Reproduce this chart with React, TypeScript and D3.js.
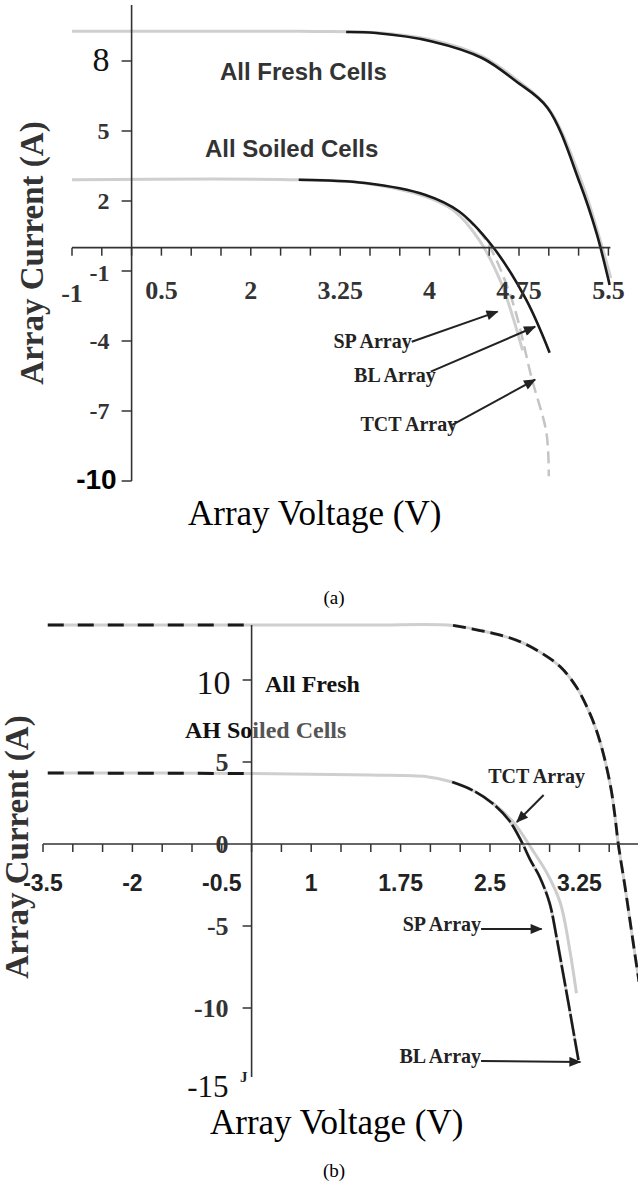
import React from "react";
import * as d3 from "d3";

type Pt = [number, number];

// ---------- chart (a) ----------
const aXTicks = [-1, 0.5, 2, 3.25, 4, 4.75, 5.5];
const aXLabels = ["-1", "0.5", "2", "3.25", "4", "4.75", "5.5"];
const aYTicks = [8, 5, 2, -1, -4, -7, -10];

// [voltage, current]
const aFreshGray: Pt[] = [
  [-1, 9.27], [2.67, 9.27], [3.55, 9.22], [4.02, 8.9], [4.44, 8.2], [4.73, 7.2],
  [5.0, 5.95], [5.28, 2.75], [5.42, 0.5], [5.52, -1.3],
];
const aFreshBL: Pt[] = [
  [3.3, 9.24], [3.55, 9.2], [4.02, 8.84], [4.44, 8.13], [4.725, 7.13], [4.99, 5.99],
  [5.26, 2.77], [5.4, 0.63], [5.5, -1.37], [5.51, -1.6],
];
const aSoiledSP: Pt[] = [
  [-1, 2.91], [2.67, 2.91], [3.46, 2.76], [3.96, 2.2], [4.2, 1.6], [4.42, 0.3],
  [4.6, -1.5], [4.7, -3.0], [4.78, -4.4],
];
const aSoiledBL: Pt[] = [
  [2.67, 2.91], [3.46, 2.77], [3.96, 2.27], [4.245, 1.56], [4.527, 0.06], [4.81, -2.23],
  [5.007, -4.5],
];
const aSoiledTCT: Pt[] = [
  [4.3, 1.3], [4.47, 0.34], [4.69, -2.23], [4.86, -5.66], [4.98, -7.93], [5.0, -9.8],
];
// label, tail [v, i], tip [v, i]
const aArrows: { label: string; tail: Pt; tip: Pt }[] = [
  { label: "SP Array", tail: [3.85, -4.03], tip: [4.57, -2.74] },
  { label: "BL Array", tail: [4.01, -5.31], tip: [4.885, -3.39] },
  { label: "TCT Array", tail: [4.19, -7.59], tip: [4.885, -5.66] },
];

// ---------- chart (b) ----------
const bXTicks = [-3.5, -2, -0.5, 1, 1.75, 2.5, 3.25];
const bXLabels = ["-3.5", "-2", "-0.5", "1", "1.75", "2.5", "3.25"];
const bYTicks = [10, 5, 0, -5, -10, -15];

const bFresh: Pt[] = [
  [-3.42, 13.35], [0, 13.35], [1.5, 13.35], [2.19, 13.33], [2.475, 12.93], [2.717, 12.44],
  [2.917, 11.71], [3.092, 10.79], [3.225, 9.57], [3.325, 8.17], [3.392, 6.95], [3.458, 5.3],
  [3.517, 3.29], [3.55, 1.6], [3.575, 0.06], [3.633, -2.62], [3.692, -5.55], [3.75, -8.4],
];
const bSoiled: Pt[] = [
  [-3.42, 4.33], [0, 4.3], [1.5, 4.2], [1.97, 4.1], [2.183, 3.78], [2.35, 3.29],
  [2.517, 2.5], [2.658, 1.46], [2.758, 0.24], [2.84, -1.0], [2.917, -2.01], [3.0, -3.6],
  [3.058, -5.67], [3.108, -7.68], [3.158, -9.7], [3.208, -11.77], [3.242, -13.17],
];
const bSoiledTCT: Pt[] = [
  [2.517, 2.55], [2.7, 1.3], [2.85, -0.3], [2.98, -1.8], [3.09, -3.6], [3.17, -6.5],
  [3.225, -9.1],
];
const bArrows: { label: string; tail: Pt; tip: Pt }[] = [
  { label: "TCT Array", tail: [2.95, 2.99], tip: [2.725, 1.34] },
  { label: "SP Array", tail: [2.425, -5.18], tip: [2.933, -5.18] },
  { label: "BL Array", tail: [2.425, -13.23], tip: [3.258, -13.29] },
];

const SERIF = "'Liberation Serif', 'Times New Roman', serif";
const SANS = "'Liberation Sans', Arial, sans-serif";

// ticks in between the labelled values (three steps per label)
const thirds = (vals: number[]) =>
  vals.flatMap((v, k) =>
    k < vals.length - 1 ? [v, v + (vals[k + 1] - v) / 3, v + (2 * (vals[k + 1] - v)) / 3] : [v]
  );

export default function App() {
  const W = 638;
  const H = 1183;

  // (a) scales
  const aX = d3.scaleLinear().domain(aXTicks).range(aXTicks.map((_, k) => 72 + k * 89.4));
  const aY = d3.scaleLinear().domain([-10, 8]).range([481, 61]);
  const aLine = d3
    .line<Pt>()
    .x((d) => aX(d[0]))
    .y((d) => aY(d[1]))
    .curve(d3.curveCatmullRom.alpha(0.5));
  const aAxisY = aY(0);
  const aAxisX = aX(0);

  // (b) scales
  const bX = d3.scaleLinear().domain(bXTicks).range(bXTicks.map((_, k) => 43 + k * 89.4));
  const bY = d3.scaleLinear().domain([-15, 10]).range([1090, 680]);
  const bLine = d3
    .line<Pt>()
    .x((d) => bX(d[0]))
    .y((d) => bY(d[1]))
    .curve(d3.curveCatmullRom.alpha(0.5));
  const bAxisY = bY(0);
  const bAxisX = bX(0);

  const aMinor = thirds(aXTicks);
  const bMinor = [...thirds(bXTicks), 3.5];

  const aYFont = (v: number) =>
    v === 8
      ? { fontFamily: SERIF, fontSize: 34, fontWeight: 400, fill: "#111" }
      : v === -10
      ? { fontFamily: SANS, fontSize: 28, fontWeight: 700, fill: "#000" }
      : { fontFamily: SERIF, fontSize: 24, fontWeight: 700, fill: "#333" };
  const bYFont = (v: number) =>
    v === 10
      ? { fontFamily: SERIF, fontSize: 34, fontWeight: 400, fill: "#111" }
      : v === -15
      ? { fontFamily: SERIF, fontSize: 31, fontWeight: 400, fill: "#111" }
      : { fontFamily: SERIF, fontSize: 26, fontWeight: 700, fill: "#333" };

  return (
    <svg
      width={W}
      height={H}
      style={{ position: "absolute", left: 0, top: 0, background: "#fff" }}
    >
      <defs>
        <marker
          id="head"
          viewBox="0 0 12 10"
          refX="11"
          refY="5"
          markerWidth="13"
          markerHeight="10"
          markerUnits="userSpaceOnUse"
          orient="auto"
        >
          <path d="M0,0 L12,5 L0,10 Z" fill="#222" />
        </marker>
      </defs>
      <rect width={W} height={H} fill="#fff" />

      {/* ================= (a) ================= */}
      <g>
        <path d={aLine(aFreshGray) || ""} fill="none" stroke="#cfcfcf" strokeWidth={3} />
        <path d={aLine(aSoiledSP) || ""} fill="none" stroke="#cfcfcf" strokeWidth={3} />
        <path
          d={aLine(aSoiledTCT) || ""}
          fill="none"
          stroke="#c4c4c4"
          strokeWidth={2.5}
          strokeDasharray="12 6"
        />
        <path d={aLine(aFreshBL) || ""} fill="none" stroke="#1a1a1a" strokeWidth={2.6} />
        <path d={aLine(aSoiledBL) || ""} fill="none" stroke="#1a1a1a" strokeWidth={2.6} />

        <line x1={aX(-1)} x2={aX(5.5) + 2} y1={aAxisY} y2={aAxisY} stroke="#333" strokeWidth={1.6} />
        <line x1={aAxisX} x2={aAxisX} y1={5} y2={aY(-10)} stroke="#333" strokeWidth={1.6} />
        {aMinor.map((v, k) => (
          <line key={k} x1={aX(v)} x2={aX(v)} y1={aAxisY} y2={aAxisY + 8} stroke="#333" strokeWidth={1.5} />
        ))}
        {aXTicks.map((v, k) => (
          <text
            key={k}
            x={aX(v)}
            y={k === 0 ? 302 : 299}
            textAnchor="middle"
            fontFamily={SERIF}
            fontSize={26}
            fontWeight={700}
            fill="#333"
          >
            {aXLabels[k]}
          </text>
        ))}
        {aYTicks.map((v) => (
          <g key={v}>
            <line x1={aAxisX - 10} x2={aAxisX} y1={aY(v)} y2={aY(v)} stroke="#333" strokeWidth={1.5} />
            <text
              x={v === -10 ? aAxisX - 15 : aAxisX - 22}
              y={aY(v)}
              dy={v === 8 ? 10 : v === -1 ? 10 : 8}
              textAnchor="end"
              {...aYFont(v)}
            >
              {v}
            </text>
          </g>
        ))}

        <text x={220} y={80} fontFamily={SANS} fontSize={24} fontWeight={700} fill="#333">
          All Fresh Cells
        </text>
        <text x={205} y={157} fontFamily={SANS} fontSize={24} fontWeight={700} fill="#333">
          All Soiled Cells
        </text>

        {aArrows.map((a) => (
          <g key={a.label}>
            <text
              x={aX(a.tail[0]) + (a.label === "SP Array" ? 0 : 5)}
              y={aY(a.tail[1]) + (a.label === "BL Array" ? 10 : 6)}
              textAnchor="end"
              fontFamily={SERIF}
              fontSize={20}
              fontWeight={700}
              fill="#222"
            >
              {a.label}
            </text>
            <line
              x1={aX(a.tail[0])}
              y1={aY(a.tail[1])}
              x2={aX(a.tip[0])}
              y2={aY(a.tip[1])}
              stroke="#222"
              strokeWidth={2}
              markerEnd="url(#head)"
            />
          </g>
        ))}

        <text
          transform={`translate(43, 253) rotate(-90)`}
          textAnchor="middle"
          fontFamily={SERIF}
          fontSize={33}
          fontWeight={700}
          fill="#333"
        >
          Array Current (A)
        </text>
        <text x={188} y={525} fontFamily={SERIF} fontSize={35} fill="#000">
          Array Voltage (V)
        </text>
        <text x={334} y={604} textAnchor="middle" fontFamily={SERIF} fontSize={19} fill="#000">
          (a)
        </text>
      </g>

      {/* ================= (b) ================= */}
      <g>
        <path d={bLine(bFresh) || ""} fill="none" stroke="#cfcfcf" strokeWidth={3} />
        <path d={bLine(bSoiled) || ""} fill="none" stroke="#cfcfcf" strokeWidth={3} />
        <path d={bLine(bSoiledTCT) || ""} fill="none" stroke="#cdcdcd" strokeWidth={3} />
        <path
          d={bLine(bFresh.filter((d) => d[0] <= 0)) || ""}
          fill="none"
          stroke="#1a1a1a"
          strokeWidth={3}
          strokeDasharray="16 14"
        />
        <path
          d={bLine(bFresh.filter((d) => d[0] >= 2.19)) || ""}
          fill="none"
          stroke="#1a1a1a"
          strokeWidth={2.8}
          strokeDasharray="13 6"
        />
        <path
          d={bLine(bSoiled.filter((d) => d[0] <= 0)) || ""}
          fill="none"
          stroke="#1a1a1a"
          strokeWidth={3}
          strokeDasharray="16 14"
        />
        <path
          d={bLine(bSoiled.filter((d) => d[0] >= 2.1)) || ""}
          fill="none"
          stroke="#1a1a1a"
          strokeWidth={2.6}
          strokeDasharray="22 3"
        />

        <line x1={bX(-3.5)} x2={W} y1={bAxisY} y2={bAxisY} stroke="#333" strokeWidth={1.6} />
        <line x1={bAxisX} x2={bAxisX} y1={625} y2={1077} stroke="#333" strokeWidth={1.6} />
        {bMinor.map((v, k) => (
          <line key={k} x1={bX(v)} x2={bX(v)} y1={bAxisY} y2={bAxisY + 8} stroke="#333" strokeWidth={1.5} />
        ))}
        {bXTicks.map((v, k) => (
          <text
            key={k}
            x={bX(v)}
            y={891}
            textAnchor="middle"
            fontFamily={SANS}
            fontSize={23}
            fontWeight={700}
            fill="#222"
          >
            {bXLabels[k]}
          </text>
        ))}
        {bYTicks.map((v) => (
          <g key={v}>
            {v !== 0 && v !== -15 && (
              <line x1={bAxisX - 9} x2={bAxisX} y1={bY(v)} y2={bY(v)} stroke="#333" strokeWidth={1.5} />
            )}
            <text
              x={v === 10 ? bAxisX - 21 : bAxisX - 23}
              y={bY(v)}
              dy={v === 10 ? 14 : v === -15 ? 7 : 9}
              textAnchor="end"
              {...bYFont(v)}
            >
              {v}
            </text>
          </g>
        ))}
        <text x={240} y={1082} fontFamily={SERIF} fontSize={15} fontWeight={700} fill="#222">
          J
        </text>

        <text x={265} y={692} fontFamily={SERIF} fontSize={24} fontWeight={700} fill="#111">
          All Fresh
        </text>
        <text x={185} y={738} fontFamily={SERIF} fontSize={24} fontWeight={700} fill="#111">
          AH So<tspan fill="#555">iled Cells</tspan>
        </text>

        {bArrows.map((a) => {
          const tcT = a.label === "TCT Array";
          return (
            <g key={a.label}>
              <text
                x={tcT ? bX(a.tail[0]) - 7 : bX(a.tail[0])}
                y={tcT ? bY(a.tail[1]) - 12 : bY(a.tail[1]) + 2}
                textAnchor={tcT ? "middle" : "end"}
                fontFamily={SERIF}
                fontSize={20}
                fontWeight={700}
                fill="#222"
              >
                {a.label}
              </text>
              <line
                x1={bX(a.tail[0])}
                y1={bY(a.tail[1])}
                x2={bX(a.tip[0])}
                y2={bY(a.tip[1])}
                stroke="#222"
                strokeWidth={2}
                markerEnd="url(#head)"
              />
            </g>
          );
        })}

        <text
          transform={`translate(28, 847) rotate(-90)`}
          textAnchor="middle"
          fontFamily={SERIF}
          fontSize={33}
          fontWeight={700}
          fill="#333"
        >
          Array Current (A)
        </text>
        <text x={210} y={1134} fontFamily={SERIF} fontSize={35} fill="#000">
          Array Voltage (V)
        </text>
        <text x={334} y={1177} textAnchor="middle" fontFamily={SERIF} fontSize={19} fill="#000">
          (b)
        </text>
      </g>
    </svg>
  );
}
